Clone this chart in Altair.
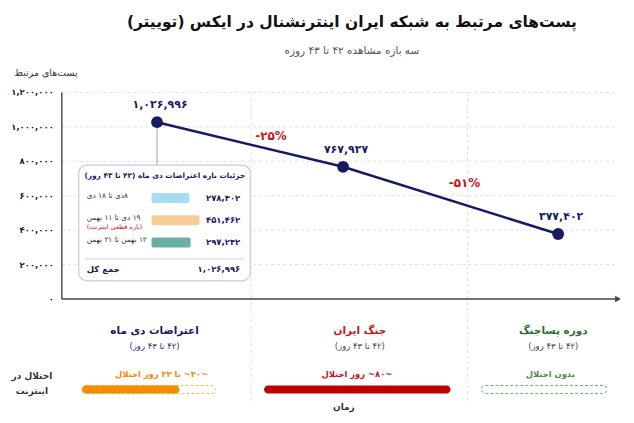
import altair as alt
import pandas as pd

FA_DIGITS = str.maketrans("0123456789", "۰۱۲۳۴۵۶۷۸۹")
def fa(s):
    return str(s).translate(FA_DIGITS)

RLM = "\u200f"
def rtl(s):
    return RLM + s + RLM

FONT = "DejaVu Sans"
NAVY = "#161b62"
RED = "#c8161d"
ORANGE = "#f28c00"
GREEN = "#2f6e33"
GRID = "#d6d6d6"

# ---------------- data ----------------
periods = ["اعتراضات دی ماه", "جنگ ایران", "دوره پساجنگ"]
period_days = ["(۴۲ تا ۴۳ روز)", "(۴۲ تا ۴۳ روز)", "(۴۲ تا ۴۳ روز)"]
period_time = [17.0, 50.2, 88.6]        # position on the time axis (0-100)
posts = [1026996, 767927, 377402]
separator_time = [33.8, 72.4]

y_ticks = [0, 200000, 400000, 600000, 800000, 1000000, 1200000]
y_tick_labels = [fa(f"{v:,}") for v in y_ticks]

detail_ranges = ["۸دی تا ۱۸ دی", "۱۹ دی تا ۱۱ بهمن", "۱۲ بهمن تا ۲۱ بهمن"]
detail_notes = ["", "(بازه قطعی اینترنت)", ""]
detail_posts = [278302, 451462, 297232]
detail_colors = ["#a9dcf2", "#f8cd97", "#6aafa1"]

disruption_labels = ["~۲۰~ تا ۲۲ روز اختلال", "~۸۰~ روز اختلال", "بدون اختلال"]
disruption_start = [3.6, 36.1, 74.9]
disruption_solid_end = [21.0, 69.4, 74.9]
disruption_span_end = [27.4, 69.4, 97.3]

# ---------------- tables ----------------
main_df = pd.DataFrame({
    "period": periods,
    "t": period_time,
    "posts": posts,
    "label": [fa(f"{v:,}") for v in posts],
})
chg = []
for i in range(len(posts) - 1):
    pct = round((posts[i + 1] / posts[i] - 1) * 100)
    chg.append({
        "t": (period_time[i] + period_time[i + 1]) / 2,
        "v": (posts[i] + posts[i + 1]) / 2,
        "label": "-" + fa(abs(pct)) + "%",
    })
chg_df = pd.DataFrame(chg)

XS = alt.Scale(domain=[0, 100], nice=False, zero=False, padding=0)
YS = alt.Scale(domain=[-670000, 1200000], nice=False, zero=False, padding=0)
def X(f):
    return alt.X(f, type="quantitative", scale=XS, axis=None)
def Y(f):
    return alt.Y(f, type="quantitative", scale=YS, axis=None)

one = pd.DataFrame({"a": [0]})

grid = alt.Chart(pd.DataFrame({"v": y_ticks[1:]})).mark_rule(
    color=GRID, strokeDash=[3, 3], strokeWidth=0.8
).encode(y=Y("v"), x=alt.value(0), x2=alt.value(558))

seps = alt.Chart(pd.DataFrame({"t": separator_time})).mark_rule(
    color=GRID, strokeDash=[3, 3], strokeWidth=0.8
).encode(x=X("t"), y=alt.value(0), y2=alt.value(310))

axis_y = alt.Chart(pd.DataFrame({"y0": [0], "y1": [y_ticks[-1]]})).mark_rule(
    color="#444", strokeWidth=1.4
).encode(x=alt.value(0), y=Y("y0"), y2="y1:Q")
axis_x = alt.Chart(pd.DataFrame({"y0": [0]})).mark_rule(
    color="#444", strokeWidth=1.4
).encode(y=Y("y0"), x=alt.value(0), x2=alt.value(556))
arrow = alt.Chart(pd.DataFrame({"y0": [0]})).mark_point(
    shape="triangle-right", filled=True, size=45, color="#444", opacity=1
).encode(y=Y("y0"), x=alt.value(558))

tick_text = alt.Chart(pd.DataFrame({"v": y_ticks, "lab": y_tick_labels})).mark_text(
    font=FONT, fontSize=8.5, fontWeight="bold", color="#222", align="right", baseline="middle"
).encode(y=Y("v"), x=alt.value(-8), text="lab:N")

y_title = alt.Chart(one).mark_text(
    font=FONT, fontSize=9.5, color="#333", align="center", baseline="middle",
    text=rtl("پست‌های مرتبط")
).encode(x=alt.value(-16), y=alt.value(-19))

box = alt.Chart(one).mark_rect(
    fill="white", stroke="#c5cae6", strokeWidth=1.2, cornerRadius=8
).encode(x=alt.value(17), x2=alt.value(189), y=alt.value(73), y2=alt.value(189))

connector = alt.Chart(main_df.iloc[[0]]).mark_rule(color="#9aa0b8", strokeWidth=1).encode(
    x=X("t"), y=Y("posts"), y2=alt.value(73)
)

line = alt.Chart(main_df).mark_line(color=NAVY, strokeWidth=2.5).encode(x=X("t"), y=Y("posts"))
pts = alt.Chart(main_df).mark_circle(color=NAVY, size=140, opacity=1).encode(x=X("t"), y=Y("posts"))
pt_labels = alt.Chart(main_df).mark_text(
    font=FONT, fontSize=11, fontWeight="bold", color=NAVY, dy=-17, dx=3
).encode(x=X("t"), y=Y("posts"), text="label:N")

chg_offsets = [(21, -8), (14, -17)]
chg_layers = []
for i, (ddx, ddy) in enumerate(chg_offsets):
    chg_layers.append(alt.Chart(chg_df.iloc[[i]]).mark_text(
        font=FONT, fontSize=12, fontWeight="bold", color=RED, dx=ddx, dy=ddy
    ).encode(x=X("t"), y=Y("v"), text="label:N"))

# inset static texts
inset_title = alt.Chart(one).mark_text(
    font=FONT, fontSize=7.4, fontWeight="bold", color=NAVY, align="right", baseline="middle",
    text=rtl("جزئیات بازه اعتراضات دی ماه (۴۲ تا ۴۳ روز)")
).encode(x=alt.value(184), y=alt.value(84))
inset_sep = alt.Chart(one).mark_rule(color="#c9ccd8", strokeWidth=0.8).encode(
    x=alt.value(23), x2=alt.value(183), y=alt.value(167)
)
total_lab = alt.Chart(one).mark_text(
    font=FONT, fontSize=8.5, fontWeight="bold", color=NAVY, align="left", baseline="middle",
    text=rtl("جمع کل")
).encode(x=alt.value(25), y=alt.value(177))
total_val = alt.Chart(pd.DataFrame({"lab": [fa(f"{sum(detail_posts):,}")]})).mark_text(
    font=FONT, fontSize=8.5, fontWeight="bold", color=NAVY, align="right", baseline="middle"
).encode(x=alt.value(179), y=alt.value(177), text="lab:N")

# bottom section
grp_df = pd.DataFrame({"name": [rtl(p) for p in periods], "days": [rtl(d) for d in period_days]})
grp_x = [93, 299, 493]
grp_colors = [NAVY, RED, GREEN]
day_colors = ["#2b3080", "#444", "#444"]
bottom = []
for i in range(3):
    bottom.append(alt.Chart(grp_df.iloc[[i]]).mark_text(
        font=FONT, fontSize=10.5, fontWeight="bold", color=grp_colors[i], baseline="middle"
    ).encode(x=alt.value(grp_x[i]), y=alt.value(239), text="name:N"))
    bottom.append(alt.Chart(grp_df.iloc[[i]]).mark_text(
        font=FONT, fontSize=8.5, color=day_colors[i], baseline="middle"
    ).encode(x=alt.value(grp_x[i]), y=alt.value(254), text="days:N"))

dis_df = pd.DataFrame({
    "lab": [rtl(s) for s in disruption_labels],
    "s": disruption_start,
    "e": disruption_solid_end,
    "f": disruption_span_end,
})
dis_colors = [ORANGE, "#c0141c", "#4a8b4a"]
outline_colors = ["#f6b46a", None, "#6ea86e"]
dis_x = [100, 296, 490]
for i in range(3):
    row = dis_df.iloc[[i]]
    bottom.append(alt.Chart(row).mark_text(
        font=FONT, fontSize=8.4, fontWeight="bold", color=dis_colors[i], baseline="middle"
    ).encode(x=alt.value(dis_x[i]), y=alt.value(283), text="lab:N"))
    if outline_colors[i]:
        bottom.append(alt.Chart(row).mark_rect(
            fill="white", stroke=outline_colors[i], strokeWidth=1, strokeDash=[3, 2], cornerRadius=4
        ).encode(x=X("s"), x2="f:Q", y=alt.value(294), y2=alt.value(302)))
    if disruption_solid_end[i] > disruption_start[i]:
        bottom.append(alt.Chart(row).mark_rect(
            fill=dis_colors[i] if i == 0 else "#bd0000", cornerRadius=4
        ).encode(x=X("s"), x2="e:Q", y=alt.value(294), y2=alt.value(302)))

side1 = alt.Chart(one).mark_text(
    font=FONT, fontSize=9, fontWeight="bold", color="#333", baseline="middle", text=rtl("اختلال در")
).encode(x=alt.value(-30), y=alt.value(285))
side2 = alt.Chart(one).mark_text(
    font=FONT, fontSize=9, fontWeight="bold", color="#333", baseline="middle", text=rtl("اینترنت")
).encode(x=alt.value(-30), y=alt.value(300))
x_title = alt.Chart(one).mark_text(
    font=FONT, fontSize=9, fontWeight="bold", color="#333", baseline="middle", text=rtl("زمان")
).encode(x=alt.value(283), y=alt.value(316))

main = alt.layer(
    grid, seps, axis_y, axis_x, arrow, tick_text, y_title, box, connector,
    line, pts, pt_labels, *chg_layers, inset_title, inset_sep, total_lab, total_val,
    *bottom, side1, side2, x_title
)

# inset detail rows (own scales)
det_df = pd.DataFrame({
    "row": [0, 1, 2],
    "range": [rtl(s) for s in detail_ranges],
    "note": [rtl(s) if s else "" for s in detail_notes],
    "posts": detail_posts,
    "lab": [fa(f"{v:,}") for v in detail_posts],
    "color": detail_colors,
})
BAR_BASE = -379000
IY = alt.Y("row:Q", scale=alt.Scale(domain=[0, 2], range=[106, 150.5], nice=False, zero=False, padding=0), axis=None)
det_bars = alt.Chart(det_df).mark_bar(size=10, cornerRadius=2, orient="horizontal").encode(
    x=alt.X("posts:Q", scale=alt.Scale(domain=[BAR_BASE, 500000], range=[90, 141], nice=False, zero=False, padding=0), axis=None),
    x2=alt.datum(BAR_BASE),
    y=IY,
    color=alt.Color("color:N", scale=None),
)
det_range = alt.Chart(det_df).mark_text(
    font=FONT, fontSize=7.4, color="#333", align="left", baseline="middle", dy=-2
).encode(x=alt.value(25), y=IY, text="range:N")
det_range2 = alt.Chart(det_df[det_df["note"] != ""]).mark_text(
    font=FONT, fontSize=6.5, color=RED, align="left", baseline="middle", dy=7
).encode(x=alt.value(25), y=IY, text="note:N")
det_vals = alt.Chart(det_df).mark_text(
    font=FONT, fontSize=8.5, fontWeight="bold", color=NAVY, align="right", baseline="middle"
).encode(x=alt.value(179), y=IY, text="lab:N")

inset = alt.layer(det_bars, det_range, det_range2, det_vals)

chart = alt.layer(main, inset).resolve_scale(x="independent", y="independent").properties(
    width=562,
    height=323,
    autosize=alt.AutoSizeParams(type="none"),
    padding={"left": 54, "top": 84, "right": 4, "bottom": 4},
    background="white",
    title=alt.TitleParams(
        text=rtl("پست‌های مرتبط به شبکه ایران اینترنشنال در ایکس (توییتر)"),
        subtitle=rtl("سه بازه مشاهده ۴۲ تا ۴۳ روزه"),
        anchor="middle", frame="group", offset=12, dx=10,
        font=FONT, fontSize=15.5, fontWeight="bold", color="#111",
        subtitleFont=FONT, subtitleFontSize=10.5, subtitleColor="#555", subtitlePadding=16,
    ),
).configure_view(stroke=None)

chart.save("out.html", embed_options={"renderer": "svg", "actions": False})
